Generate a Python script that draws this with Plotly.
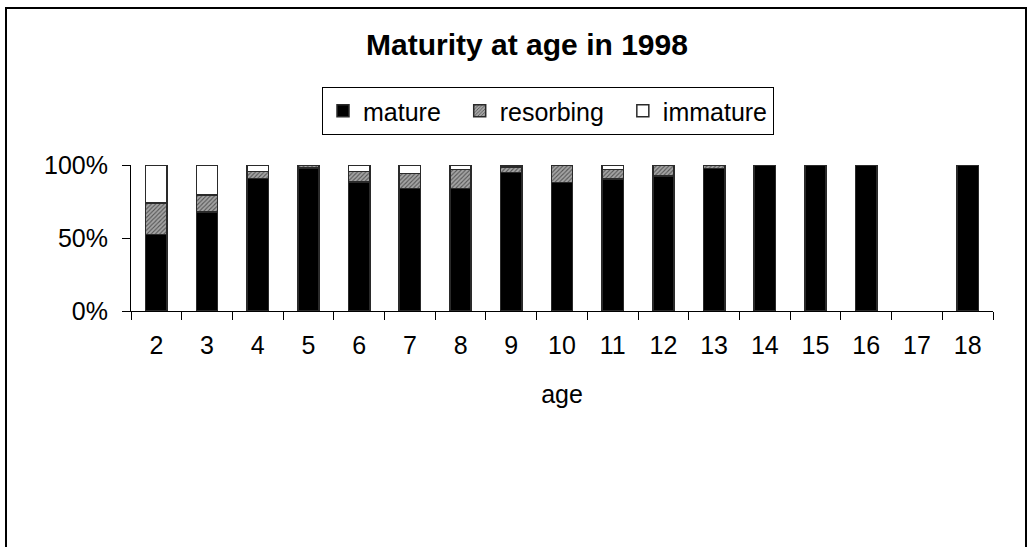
import plotly.graph_objects as go

ages = ["2", "3", "4", "5", "6", "7", "8", "9", "10", "11", "12", "13", "14", "15", "16", "17", "18"]
mature = [52.4, 67.7, 90.9, 98.0, 88.2, 83.8, 83.8, 95.0, 88.0, 90.4, 92.5, 97.5, 100, 100, 100, None, 100]
resorbing = [21.6, 11.6, 4.8, 2.0, 7.5, 10.3, 13.2, 3.5, 12.0, 6.6, 7.5, 2.5, 0, 0, 0, None, 0]
immature = [26.0, 20.7, 4.3, 0.0, 4.3, 5.9, 3.0, 1.5, 0.0, 3.0, 0.0, 0.0, 0, 0, 0, None, 0]
y_ticks = [0, 50, 100]
y_labels = ["0%", "50%", "100%"]

FONT = "Liberation Sans, Arial, sans-serif"
LINE = dict(color="#2a2a2a", width=1.5)
NB = "\u00a0"

fig = go.Figure()
fig.add_trace(go.Bar(x=ages, y=mature, name="mature" + NB * 2,
                     marker=dict(color="black", line=LINE), width=0.42))
fig.add_trace(go.Bar(x=ages, y=resorbing, name="resorbing" + NB * 2,
                     marker=dict(color="#a0a0a0", line=LINE,
                                 pattern=dict(shape="/", size=3, solidity=0.35,
                                              fgcolor="#555555", bgcolor="#a4a4a4",
                                              fillmode="replace")),
                     width=0.42))
fig.add_trace(go.Bar(x=ages, y=immature, name="immature",
                     marker=dict(color="white", line=LINE), width=0.42))

# plot area in pixels: x 131..993, y 165..311
L, R, T, B = 131, 35, 165, 236
W = 1028 - L - R
H = 547 - T - B

def px(xp):
    return (xp - L) / W

def py(yp):
    return (547 - B - yp) / H

fig.update_layout(
    width=1028, height=547,
    margin=dict(l=L, r=R, t=T, b=B),
    barmode="stack",
    paper_bgcolor="white", plot_bgcolor="white",
    font=dict(family=FONT, size=25, color="black"),
    title=dict(text="<b>Maturity at age in 1998</b>", font=dict(size=30, family=FONT),
               x=527 / 1028, xanchor="center", xref="container",
               y=1 - 44 / 547, yanchor="middle", yref="container"),
    legend=dict(orientation="h", x=px(548), xanchor="center", y=py(87), yanchor="top",
                bordercolor="black", borderwidth=1, font=dict(size=25, family=FONT),
                traceorder="normal", bgcolor="white"),
    showlegend=True,
    xaxis=dict(type="category", range=[-0.5, 16.5], ticks="outside", tickson="boundaries",
               ticklen=8, tickcolor="black", showline=True, linecolor="black", linewidth=1,
               showgrid=False, tickfont=dict(size=25), ticklabelstandoff=12,
               title=dict(text="age", font=dict(size=25), standoff=27)),
    yaxis=dict(range=[0, 100], tickvals=y_ticks, ticktext=y_labels, ticks="outside",
               ticklen=8, tickcolor="black", showline=True, linecolor="black", linewidth=1,
               showgrid=False, zeroline=False, tickfont=dict(size=25), ticklabelstandoff=9),
)

# outer chart frame
fig.add_shape(type="rect", xref="paper", yref="paper",
              x0=px(6), x1=px(1026), y0=py(570), y1=py(8),
              line=dict(color="black", width=2), fillcolor="rgba(0,0,0,0)", layer="above")

fig.write_html("out.html", config={"displayModeBar": False},
               post_script="document.body.style.margin='0';document.body.style.overflow='hidden';")
